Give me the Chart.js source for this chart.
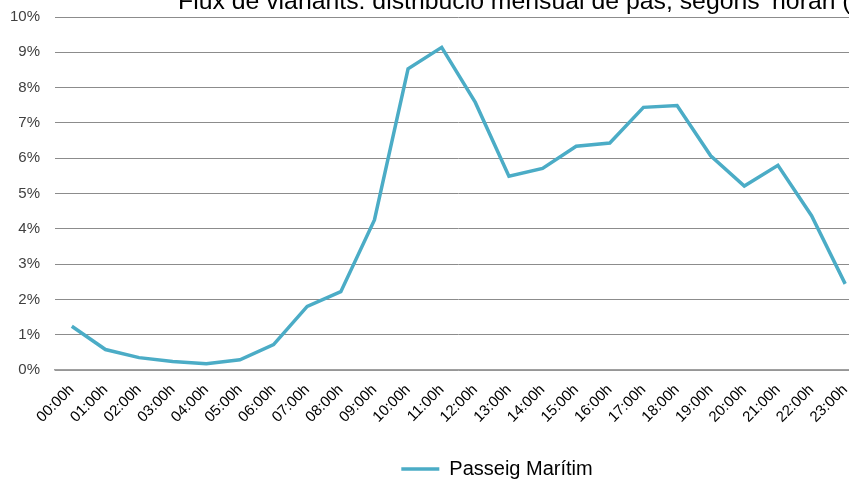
<!DOCTYPE html>
<html>
<head>
<meta charset="utf-8">
<script src="https://cdn.jsdelivr.net/npm/chart.js@4.4.1/dist/chart.umd.min.js"></script>
<style>
  html, body { margin: 0; padding: 0; overflow: hidden; background: #fff; }
  .wrap { position: relative; top: -7px; width: 994px; height: 496px; }
</style>
</head>
<body>
<div class="wrap"><canvas id="chart"></canvas></div>
<script>
// hores del dia
const hores = ['00:00h', '01:00h', '02:00h', '03:00h', '04:00h', '05:00h', '06:00h', '07:00h',
    '08:00h', '09:00h', '10:00h', '11:00h', '12:00h', '13:00h', '14:00h', '15:00h',
    '16:00h', '17:00h', '18:00h', '19:00h', '20:00h', '21:00h', '22:00h', '23:00h']

// % de pas per hora (Passeig Marítim)
const passeigMaritim = [1.24, 0.58, 0.35, 0.24, 0.18, 0.29, 0.72, 1.80,
    2.22, 4.25, 8.53, 9.14, 7.58, 5.49, 5.71, 6.34, 6.43, 7.44, 7.49, 6.07,
    5.21, 5.80, 4.37, 2.44]

const titol = 'Flux de vianants: distribució mensual de pas, segons \u2018horari (Passeig Marítim)'
const nomSerie = 'Passeig Marítim'

// el títol surt tallat per dalt, com a l'original
const titlePlugin = {
    id: 'titolTallat',
    afterDraw(chart) {
        const ctx = chart.ctx
        ctx.save()
        ctx.font = '24.8px "Liberation Sans", Arial, sans-serif'
        ctx.fillStyle = '#000'
        ctx.textBaseline = 'alphabetic'
        ctx.fillText(titol, 178, 16)
        ctx.restore()
    }
}

const ctx = document.getElementById('chart').getContext('2d')
new Chart(ctx, {
    type: 'line',
    data: {
        labels: hores,
        datasets: [{
            label: nomSerie,
            data: passeigMaritim,
            borderColor: '#4BACC6',
            backgroundColor: '#4BACC6',
            borderWidth: 3.5,
            pointRadius: 0,
            tension: 0,
            fill: false
        }]
    },
    options: {
        responsive: true,
        maintainAspectRatio: false,
        animation: false,
        layout: { padding: { top: 1, bottom: 0 } },
        scales: {
            x: {
                offset: true,
                afterFit: a => { a.height = 85 },
                grid: { display: false, drawTicks: false },
                border: { color: '#a0a0a0', width: 1.5 },
                ticks: {
                    color: '#000',
                    font: { family: '"Liberation Sans", Arial', size: 15 },
                    minRotation: 45,
                    maxRotation: 45,
                    padding: 11,
                    autoSkip: false
                }
            },
            y: {
                min: 0,
                max: 10,
                afterFit: a => { a.width = 55 },
                grid: { color: '#8c8c8c', drawTicks: false },
                border: { display: false },
                ticks: {
                    stepSize: 1,
                    color: '#404040',
                    padding: 15,
                    font: { family: '"Liberation Sans", Arial', size: 15 },
                    callback: v => v + '%'
                }
            },
            y2: {
                position: 'right',
                min: 0,
                max: 10,
                afterFit: a => { a.width = 132 },
                grid: { display: false },
                border: { display: false },
                ticks: { display: false }
            }
        },
        plugins: {
            legend: {
                position: 'bottom',
                labels: {
                    usePointStyle: true,
                    pointStyle: 'line',
                    pointStyleWidth: 38,
                    boxWidth: 38,
                    color: '#000',
                    padding: 4,
                    font: { family: '"Liberation Sans", Arial', size: 20 }
                }
            },
            tooltip: { enabled: false }
        }
    },
    plugins: [titlePlugin]
})
</script>
</body>
</html>
